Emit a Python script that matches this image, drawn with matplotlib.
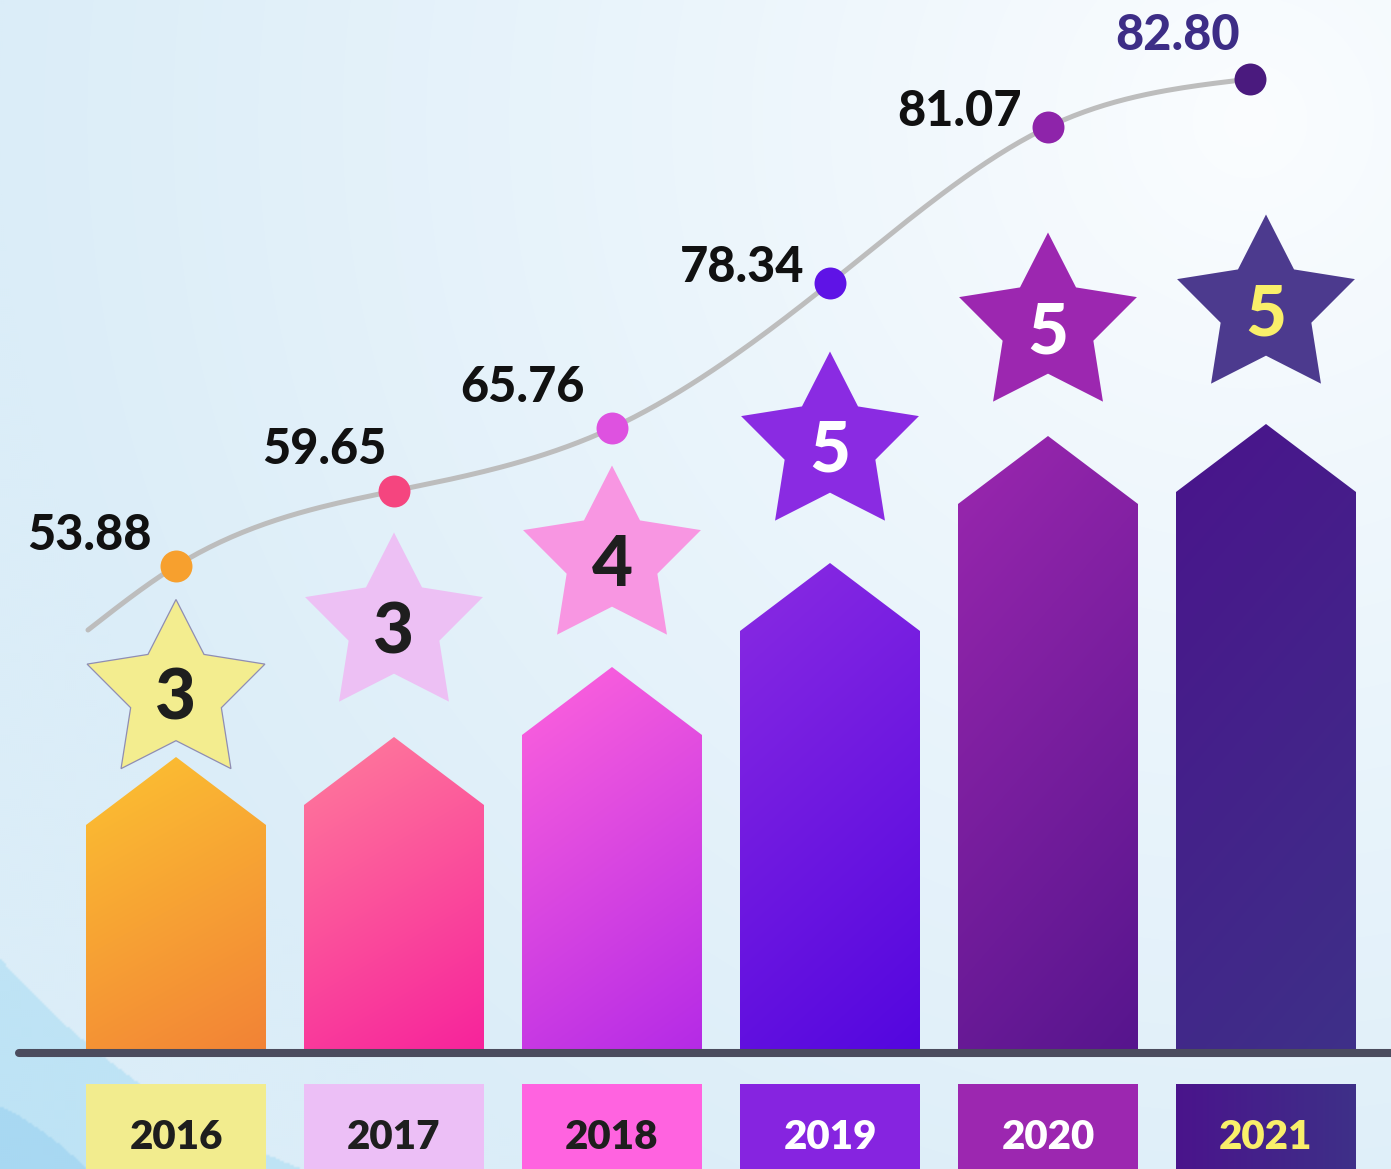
import numpy as np
import matplotlib
matplotlib.use("Agg")
import matplotlib.pyplot as plt
from matplotlib.patches import Polygon, Rectangle
from matplotlib.colors import to_rgb

# ---------------- data ----------------
years = ["2016", "2017", "2018", "2019", "2020", "2021"]
values = [53.88, 59.65, 65.76, 78.34, 81.07, 82.80]
stars = [3, 3, 4, 5, 5, 5]
bar_level = [296, 316, 386, 490, 617, 629]      # drawn arrow-bar height
curve_level = [487, 562, 625, 770, 926, 974]    # drawn height of curve points
curve_start = 423                               # height where the curve begins

# ---------------- styles / layout ----------------
bar_top = ["#FCC232", "#FF7D9C", "#FF63DC", "#8A2BE2", "#9B27AF", "#4A148C"]
bar_bot = ["#F28236", "#F7229B", "#B42AE6", "#5306DF", "#56158D", "#3E3088"]
star_col = ["#F3ED8F", "#EDC0F4", "#F896E2", "#8A2BE2", "#9C27B0", "#4C3A8E"]
star_txt = ["#1E1E1E", "#1E1E1E", "#1E1E1E", "#FFFFFF", "#FFFFFF", "#F9EF6A"]
dot_col = ["#F7A02E", "#F5457F", "#DE52E0", "#5F13E6", "#8E24AA", "#4A1A7E"]
lab_col = ["#111111"] * 5 + ["#3D2D86"]
box_col = ["#F2EC8E", "#ECBFF6", "#FF63E0", "#8624E0", "#9C27B0", "#4A148C"]
year_txt = ["#1E1E1E", "#1E1E1E", "#1E1E1E", "#FFFFFF", "#FFFFFF", "#F9EF6A"]
star_gap = [64, 111, 108, 118, 110, 116]
dot_shift = [0, 0, 0, 0, 0, -16]
lab_dx = [-24, -7, -27, -26, -26, -10]
lab_dy = [33, 44, 44, 19, 19, 46]

W, H, DPI = 1391, 1169, 100
X0, DX, BASE = 176, 218, 1053
fig = plt.figure(figsize=(W / DPI, H / DPI), dpi=DPI)
ax = fig.add_axes([0, 0, 1, 1])
ax.set_axis_off()
XL = (-X0 / DX, (W - X0) / DX)
YL = (BASE - H, BASE)
ax.set_xlim(*XL)
ax.set_ylim(*YL)
ax.autoscale(False)
sx = 1.0 / DX

FONT = ["Lato", "DejaVu Sans"]

# ---------------- background ----------------
step = 2
gx, gy = np.meshgrid(np.arange(0, W, step), np.arange(0, H, step))
d = np.hypot(gx - 1250, gy - 120)
t = np.clip(d / 1250.0, 0, 1) ** 0.9
c1 = np.array(to_rgb("#FBFDFF"))
c2 = np.array(to_rgb("#DBEDF8"))
bg = c1[None, None, :] * (1 - t[..., None]) + c2[None, None, :] * t[..., None]
outside = (np.hypot(gx - 569, gy - 463) > 755) & (gx < 600) & (gy > 600)
bg[outside] = to_rgb("#BEE3F5")
corner = np.hypot(gx + 150, gy - 1400) < 330
bg[corner] = to_rgb("#A8D8F2")
ax.imshow(bg, extent=(XL[0], XL[1], YL[0], YL[1]), origin="upper",
          aspect="auto", interpolation="bilinear", zorder=0)

hw = 90 * sx


def gradient_img(ctop, cbot, n=80, horiz=0.25):
    v, u = np.meshgrid(np.linspace(0, 1, n), np.linspace(0, 1, n), indexing="ij")
    tt = np.clip((1 - horiz) * v + horiz * u, 0, 1)
    a, b = np.array(to_rgb(ctop)), np.array(to_rgb(cbot))
    return a[None, None, :] * (1 - tt[..., None]) + b[None, None, :] * tt[..., None]


# ---------------- arrow bars ----------------
for i, lvl in enumerate(bar_level):
    head = 68
    verts = [(i - hw, -2), (i - hw, lvl - head), (i, lvl), (i + hw, lvl - head), (i + hw, -2)]
    poly = Polygon(verts, closed=True, facecolor="none", edgecolor="none", zorder=2)
    ax.add_patch(poly)
    im = ax.imshow(gradient_img(bar_top[i], bar_bot[i]), extent=(i - hw, i + hw, -2, lvl),
                   origin="upper", aspect="auto", interpolation="bilinear", zorder=2)
    im.set_clip_path(poly)

# ---------------- baseline ----------------
ax.plot([(19 - X0) * sx, XL[1] + 0.1], [0, 0], color="#4B4C5E", lw=5.8,
        solid_capstyle="round", zorder=3)

# ---------------- year boxes ----------------
box_top = -31
for i, y in enumerate(years):
    if i == len(years) - 1:
        g = gradient_img("#4A148C", "#3E3088", horiz=1.0)
        ax.imshow(g, extent=(i - hw, i + hw, YL[0] - 5, box_top), origin="upper",
                  aspect="auto", interpolation="bilinear", zorder=2)
    else:
        ax.add_patch(Rectangle((i - hw, YL[0] - 5), 2 * hw, box_top - YL[0] + 5,
                               facecolor=box_col[i], edgecolor="none", zorder=2))
    ax.text(i, -96, y, ha="center", va="baseline", fontsize=29, fontweight="heavy",
            family=FONT, color=year_txt[i], zorder=4)

# ---------------- stars ----------------
R, r = 93.5, 0.51 * 93.5
ang = np.pi / 2 + np.arange(10) * np.pi / 5
rad = np.where(np.arange(10) % 2 == 0, R, r)
for i, lvl in enumerate(bar_level):
    cy = lvl + star_gap[i]
    sv = np.column_stack([i + rad * np.cos(ang) * sx, cy + rad * np.sin(ang)])
    ec = "#8F8DB3" if i == 0 else "none"
    ax.add_patch(Polygon(sv, closed=True, facecolor=star_col[i], edgecolor=ec,
                         lw=0.9, zorder=5))
    ax.text(i, cy - 27, str(stars[i]), ha="center", va="baseline", fontsize=51,
            fontweight="black", family=FONT, color=star_txt[i], zorder=6)

# ---------------- curve (natural cubic spline through the points) ----------------
cx = np.array([-88.0] + [i * DX + dot_shift[i] for i in range(len(curve_level))])
cyv = np.array([curve_start] + list(curve_level), dtype=float)
n = len(cx)
h = np.diff(cx)
A = np.zeros((n, n))
rhs = np.zeros(n)
A[0, 0] = A[-1, -1] = 1
for k in range(1, n - 1):
    A[k, k - 1] = h[k - 1]
    A[k, k] = 2 * (h[k - 1] + h[k])
    A[k, k + 1] = h[k]
    rhs[k] = 6 * ((cyv[k + 1] - cyv[k]) / h[k] - (cyv[k] - cyv[k - 1]) / h[k - 1])
M = np.linalg.solve(A, rhs)
xs, ys = [], []
for k in range(n - 1):
    xx = np.linspace(cx[k], cx[k + 1], 40)
    a = (cx[k + 1] - xx) / h[k]
    b = (xx - cx[k]) / h[k]
    yy = (a * cyv[k] + b * cyv[k + 1]
          + ((a ** 3 - a) * M[k] + (b ** 3 - b) * M[k + 1]) * h[k] ** 2 / 6)
    xs.append(xx)
    ys.append(yy)
xs = np.concatenate(xs)
ys = np.concatenate(ys)
ax.plot(xs / DX, ys, color="#BDBDBD", lw=3.6, solid_capstyle="round", zorder=6)

for i, v in enumerate(values):
    xx = i + dot_shift[i] * sx
    ax.plot([xx], [curve_level[i]], marker="o", ms=23, color=dot_col[i],
            mec="none", zorder=7)
    ax.annotate(f"{v:.2f}", xy=(xx, curve_level[i]), xytext=(lab_dx[i], lab_dy[i] - 17.5),
                textcoords="offset pixels", ha="right", va="baseline", fontsize=35,
                fontweight="black", family=FONT, color=lab_col[i], zorder=8)

ax.set_xlim(*XL)
ax.set_ylim(*YL)
fig.savefig("out.png", dpi=DPI)
